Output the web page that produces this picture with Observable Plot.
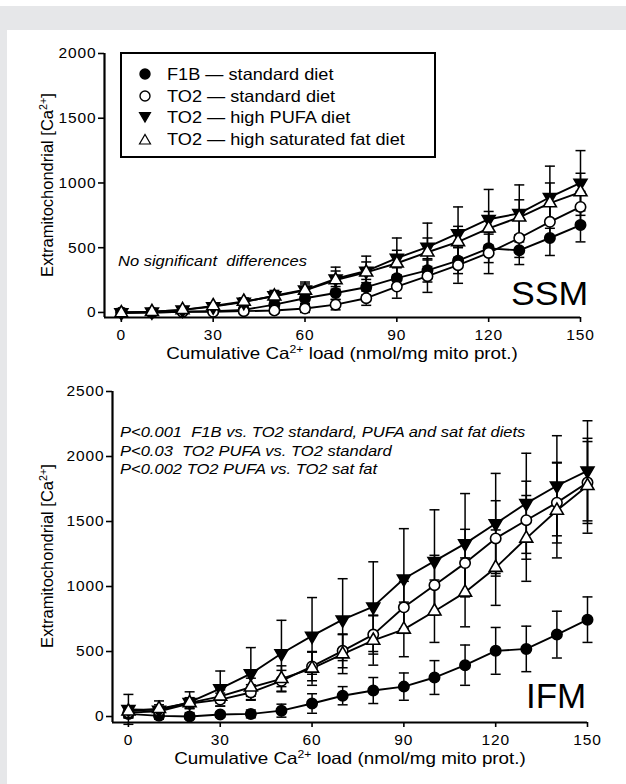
<!DOCTYPE html>
<html><head><meta charset="utf-8">
<script src="https://cdn.jsdelivr.net/npm/d3@7"></script>
<script src="https://cdn.jsdelivr.net/npm/@observablehq/plot@0.6"></script>
<style>
body{margin:0;background:#fff;font-family:"Liberation Sans",Arial,Helvetica,sans-serif;color:#000}
#page{position:relative;width:626px;height:784px;overflow:hidden;background:#fff}
.abs{position:absolute;white-space:nowrap}
.grey{position:absolute;background:#e6e7e9;z-index:5}
.it{font-style:italic}
sup{font-size:0.65em;line-height:0;vertical-align:0.55em}
.legend{border:2px solid #000;background:#fff;box-sizing:border-box}
.legrow{position:absolute;left:0;font-size:16.5px;line-height:20px;height:20px}
.legrow svg{position:absolute;left:16px;top:3px}
.legrow span{position:absolute;left:45px;top:0;transform-origin:0 50%;transform:scaleX(1.1)}
#c1 svg text, #c2 svg text{letter-spacing:0.9px}
</style></head>
<body>
<div id="page">
  <div class="grey" style="left:0;top:6px;width:626px;height:24px"></div>
  <div class="grey" style="left:0;top:6px;width:7px;height:778px"></div>
  <div id="c1" class="abs" style="left:0;top:0"></div>
  <div id="c2" class="abs" style="left:0;top:360px"></div>
</div>
<script>
// ---------- DATA ----------
const loads = [0,10,20,30,40,50,60,70,80,90,100,110,120,130,140,150];
const xTicks = [0,30,60,90,120,150];
const seriesNames = ["F1B — standard diet","TO2 — standard diet","TO2 — high PUFA diet","TO2 — high saturated fat diet"];

// SSM panel
const ssmF1B     = [0,0,5,10,20,60,110,150,195,265,325,400,495,480,575,675];
const ssmF1Bsd   = [20,10,10,15,20,30,40,50,60,80,90,100,110,110,135,130];
const ssmTO2std  = [0,0,5,5,10,15,30,60,110,200,280,365,460,575,700,815];
const ssmTO2stdSd= [20,10,10,10,15,20,30,40,55,90,125,140,160,150,140,120];
const ssmPUFA    = [0,5,20,45,80,130,175,260,320,420,505,610,720,765,890,1000];
const ssmPUFAsd  = [30,15,20,25,30,40,60,90,115,155,185,205,230,220,240,250];
const ssmSat     = [-5,5,20,50,85,125,170,250,310,380,465,545,650,735,845,930];
const ssmSatSd   = [20,10,15,20,25,35,50,70,80,100,110,120,130,135,155,145];
const ssmYTicks  = [0,500,1000,1500,2000];

// IFM panel
const ifmF1B     = [20,5,0,15,20,45,100,160,200,230,300,395,505,520,630,745];
const ifmF1Bsd   = [30,20,20,20,30,50,75,70,100,105,130,155,180,175,180,175];
const ifmTO2std  = [30,40,100,130,185,275,385,505,630,840,1010,1180,1370,1510,1645,1800];
const ifmTO2stdSd= [40,30,40,50,60,80,110,130,150,200,230,260,290,300,310,315];
const ifmPUFA    = [55,50,110,215,330,485,620,745,845,1060,1195,1330,1485,1640,1775,1890];
const ifmPUFAsd  = [115,70,80,135,200,255,295,315,345,385,395,385,385,385,385,385];
const ifmSat     = [40,60,105,155,225,290,370,480,585,670,810,955,1145,1370,1585,1775];
const ifmSatSd   = [40,30,40,50,70,100,130,150,190,210,240,265,290,330,365,365];
const ifmYTicks  = [0,500,1000,1500,2000,2500];

const panelNames = ["SSM","IFM"];
const statsSSM = ["No significant&nbsp; differences"];
const statsIFM = ["P&lt;0.001&nbsp; F1B vs. TO2 standard, PUFA and sat fat diets",
                  "P&lt;0.03&nbsp; TO2 PUFA vs. TO2 standard",
                  "P&lt;0.002 TO2 PUFA vs. TO2 sat fat"];
const xLabel = 'Cumulative Ca<sup>2+</sup> load (nmol/mg mito prot.)';
const yLabel = 'Extramitochondrial [Ca<sup>2+</sup>]';

// ---------- BUILD ----------
function rowsFor(vals, sds) {
  const rows = [];
  vals.forEach((v, i) => loads.forEach((x, j) => rows.push({series: seriesNames[i], load: x, value: v[j], sd: sds[i][j]})));
  return rows;
}
const ssmRows = rowsFor([ssmF1B, ssmTO2std, ssmPUFA, ssmSat], [ssmF1Bsd, ssmTO2stdSd, ssmPUFAsd, ssmSatSd]);
const ifmRows = rowsFor([ifmF1B, ifmTO2std, ifmPUFA, ifmSat], [ifmF1Bsd, ifmTO2stdSd, ifmPUFAsd, ifmSatSd]);

const styles = {
  [seriesNames[0]]: {symbol: "circle",   fill: "black", r: 5.2, rotate: 0},
  [seriesNames[1]]: {symbol: "circle",   fill: "white", r: 5.2, rotate: 0},
  [seriesNames[2]]: {symbol: "triangle", fill: "black", r: 4.8, rotate: 180},
  [seriesNames[3]]: {symbol: "triangle", fill: "white", r: 4.8, rotate: 0}
};
const capSymbol = {draw(ctx, size) { const r = Math.sqrt(size / Math.PI); ctx.moveTo(-r, 0); ctx.lineTo(r, 0); }};

function chart(rows, opts) {
  const marks = [
    Plot.ruleX(rows, {x: "load", y1: d => d.value - d.sd, y2: d => d.value + d.sd, stroke: "black", strokeWidth: 1.5}),
    Plot.dot(rows, {x: "load", y: d => d.value + d.sd, symbol: capSymbol, r: 5, fill: "none", stroke: "black", strokeWidth: 1.5}),
    Plot.dot(rows, {x: "load", y: d => d.value - d.sd, symbol: capSymbol, r: 5, fill: "none", stroke: "black", strokeWidth: 1.5}),
    Plot.line(rows, {x: "load", y: "value", z: "series", stroke: "black", strokeWidth: 1.9})
  ];
  for (const name of seriesNames) {
    const s = styles[name];
    marks.push(Plot.dot(rows.filter(d => d.series === name), {x: "load", y: "value", symbol: s.symbol, r: s.r, fill: s.fill, stroke: "black", strokeWidth: 1.6, rotate: s.rotate}));
  }
  marks.push(
    Plot.ruleX([opts.xDomain[0]], {stroke: "black", strokeWidth: 2.2}),
    Plot.ruleY([opts.yDomain[0]], {stroke: "black", strokeWidth: 2.2}),
    Plot.axisX({ticks: xTicks, tickSize: 5, tickPadding: 6, fontSize: 15.5, label: null, strokeWidth: 1.6}),
    Plot.axisY({ticks: opts.yTicks, tickSize: 6, tickPadding: 2, fontSize: 15.5, label: null, strokeWidth: 1.6, tickFormat: d => String(d)})
  );
  return Plot.plot({
    width: 626, height: opts.height,
    marginLeft: opts.ml, marginRight: opts.mr, marginTop: opts.mt, marginBottom: opts.mb,
    style: {background: "transparent", color: "black", fontFamily: '"Liberation Sans", Arial, sans-serif'},
    x: {domain: opts.xDomain},
    y: {domain: opts.yDomain},
    marks
  });
}

document.getElementById("c1").appendChild(chart(ssmRows, {height: 360, ml: 104, mr: 46, mt: 53, mb: 43, xDomain: [-5.5, 150], yDomain: [-39, 2000], yTicks: ssmYTicks}));
document.getElementById("c2").appendChild(chart(ifmRows, {height: 420, ml: 112, mr: 39, mt: 31, mb: 58, xDomain: [-5.2, 150], yDomain: [-46, 2500], yTicks: ifmYTicks}));

// ---------- TEXT OVERLAYS ----------
const page = document.getElementById("page");
function addDiv(html, css, cls = "abs") {
  const d = document.createElement("div"); d.className = cls; d.innerHTML = html; d.style.cssText += css; page.appendChild(d); return d;
}
// axis titles
addDiv(xLabel, "left:92px;width:500px;top:343px;text-align:center;font-size:16.5px;line-height:20px;transform:scaleX(1.14)");
addDiv(xLabel, "left:100px;width:500px;top:748px;text-align:center;font-size:16.5px;line-height:20px;transform:scaleX(1.14)");
addDiv(yLabel, "left:-103.5px;width:300px;top:175px;text-align:center;font-size:16.5px;line-height:20px;transform:rotate(-90deg)");
addDiv(yLabel, "left:-103.5px;width:300px;top:546px;text-align:center;font-size:16.5px;line-height:20px;transform:rotate(-90deg)");
// panel names
addDiv(panelNames[0], "left:511px;top:277px;font-size:33px;line-height:1;transform-origin:0 0;transform:scaleX(1.08)");
addDiv(panelNames[1], "left:526px;top:678px;font-size:35px;line-height:1");
// stats text
addDiv(statsSSM.join("<br>"), "left:118px;top:252px;font-size:15px;line-height:18px;transform-origin:0 0;transform:scaleX(1.1)", "abs it");
addDiv(statsIFM.join("<br>"), "left:120px;top:423px;font-size:14.5px;line-height:18.5px;transform-origin:0 0;transform:scaleX(1.14)", "abs it");
// legend
const leg = addDiv("", "left:120px;top:52px;width:316px;height:106px", "abs legend");
const symSvg = {
  [seriesNames[0]]: '<circle cx="7" cy="7" r="5" fill="black" stroke="black" stroke-width="1.4"/>',
  [seriesNames[1]]: '<circle cx="7" cy="7" r="5" fill="white" stroke="black" stroke-width="1.4"/>',
  [seriesNames[2]]: '<path d="M1.5,2.5 L12.5,2.5 L7,12 Z" fill="black" stroke="black" stroke-width="1.2"/>',
  [seriesNames[3]]: '<path d="M1.5,12 L12.5,12 L7,2.5 Z" fill="white" stroke="black" stroke-width="1.2"/>'
};
seriesNames.forEach((name, i) => {
  const r = document.createElement("div");
  r.className = "legrow";
  r.style.top = (10 + i * 21.7) + "px";
  r.innerHTML = `<svg width="14" height="14">${symSvg[name]}</svg><span>${name}</span>`;
  leg.appendChild(r);
});
</script>
</body></html>
